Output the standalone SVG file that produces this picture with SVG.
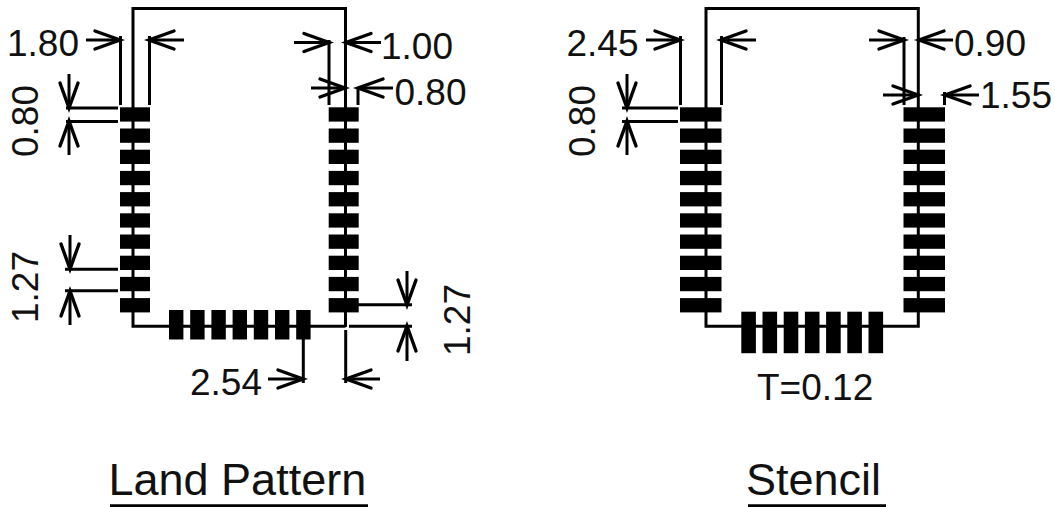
<svg xmlns="http://www.w3.org/2000/svg" width="1055" height="507" viewBox="0 0 1055 507">
<style>
.l{fill:none;stroke:#000;stroke-width:3}
.a{fill:none;stroke:#000;stroke-width:3;marker-end:url(#h)}
.p{fill:#000}
text{font-family:"Liberation Sans",Arial,sans-serif;font-size:37px;fill:#111}
.t{font-size:45px}
</style>
<defs>
<marker id="h" markerUnits="userSpaceOnUse" markerWidth="32" markerHeight="28" refX="28" refY="14" orient="auto" overflow="visible">
<path d="M3 5L28 14L3 23" fill="none" stroke="#000" stroke-width="3.4" stroke-linecap="round"/>
</marker>
<rect id="s1" width="30" height="14.3" class="p"/>
<rect id="s2" width="14.4" height="29.5" class="p"/>
<rect id="s3" width="41.5" height="14.3" class="p"/>
<rect id="s4" width="14.6" height="41.5" class="p"/>
</defs>
<g id="land-pattern">
<path class="l" d="M133 320V8.5H345.5V327M133 320V326.3H345.5"/>
<g id="land-left-pads"><use href="#s1" x="120" y="107.3"/><use href="#s1" x="120" y="128.5"/><use href="#s1" x="120" y="149.7"/><use href="#s1" x="120" y="170.9"/><use href="#s1" x="120" y="192.1"/><use href="#s1" x="120" y="213.3"/><use href="#s1" x="120" y="234.5"/><use href="#s1" x="120" y="255.7"/><use href="#s1" x="120" y="276.9"/><use href="#s1" x="120" y="298.1"/></g>
<g id="land-right-pads"><use href="#s1" x="328.7" y="107.3"/><use href="#s1" x="328.7" y="128.5"/><use href="#s1" x="328.7" y="149.7"/><use href="#s1" x="328.7" y="170.9"/><use href="#s1" x="328.7" y="192.1"/><use href="#s1" x="328.7" y="213.3"/><use href="#s1" x="328.7" y="234.5"/><use href="#s1" x="328.7" y="255.7"/><use href="#s1" x="328.7" y="276.9"/><use href="#s1" x="328.7" y="298.1"/></g>
<g id="land-bottom-pads"><use href="#s2" x="169" y="310"/><use href="#s2" x="190.2" y="310"/><use href="#s2" x="211.4" y="310"/><use href="#s2" x="232.6" y="310"/><use href="#s2" x="253.8" y="310"/><use href="#s2" x="275" y="310"/><use href="#s2" x="296.2" y="310"/></g>
</g>
<g id="stencil">
<path class="l" d="M706 320V8.5H918.3V326.3H706V320"/>
<g id="stencil-left-pads"><use href="#s3" x="680" y="107.3"/><use href="#s3" x="680" y="128.5"/><use href="#s3" x="680" y="149.7"/><use href="#s3" x="680" y="170.9"/><use href="#s3" x="680" y="192.1"/><use href="#s3" x="680" y="213.3"/><use href="#s3" x="680" y="234.5"/><use href="#s3" x="680" y="255.7"/><use href="#s3" x="680" y="276.9"/><use href="#s3" x="680" y="298.1"/></g>
<g id="stencil-right-pads"><use href="#s3" x="903.5" y="107.3"/><use href="#s3" x="903.5" y="128.5"/><use href="#s3" x="903.5" y="149.7"/><use href="#s3" x="903.5" y="170.9"/><use href="#s3" x="903.5" y="192.1"/><use href="#s3" x="903.5" y="213.3"/><use href="#s3" x="903.5" y="234.5"/><use href="#s3" x="903.5" y="255.7"/><use href="#s3" x="903.5" y="276.9"/><use href="#s3" x="903.5" y="298.1"/></g>
<g id="stencil-bottom-pads"><use href="#s4" x="741.3" y="311.7"/><use href="#s4" x="762.5" y="311.7"/><use href="#s4" x="783.7" y="311.7"/><use href="#s4" x="804.9" y="311.7"/><use href="#s4" x="826.1" y="311.7"/><use href="#s4" x="847.3" y="311.7"/><use href="#s4" x="868.5" y="311.7"/></g>
</g>
<g id="connectors">
<path class="l" d="M120.5 36V105M149.5 36V105M66 108H118M66 121.5H118M65 269.3H118M65 290.7H118M329 40V105M358 88V105M358 304.7H412M349 326.3H412M303.3 339V383M345.7 330V383"/>
<path class="a" d="M86 40H120"/><path class="a" d="M184 40H149"/>
<path class="a" d="M69 74V108"/><path class="a" d="M69 155V121"/>
<path class="a" d="M70 235V269"/><path class="a" d="M70 325V291"/>
<path class="a" d="M294 42.5H329"/><path class="a" d="M381 42.5H346"/>
<path class="a" d="M311 88H345"/><path class="a" d="M393 88H358"/>
<path class="a" d="M407 271V305"/><path class="a" d="M407 361V326"/>
<path class="a" d="M268 379H303"/><path class="a" d="M380 379H346"/>
<path class="l" d="M680.5 36V105M721.5 36V105M622 108H678M622 121.5H678M904 37V105M944.5 92V105"/>
<path class="a" d="M646 40H680"/><path class="a" d="M756 40H721"/>
<path class="a" d="M627 74V108"/><path class="a" d="M627 155V121"/>
<path class="a" d="M869 40H904"/><path class="a" d="M953 40H919"/>
<path class="a" d="M883 95H918"/><path class="a" d="M979 95H945"/>
</g>
<g id="labels">
<text x="7" y="56">1.80</text>
<text transform="translate(38 157) rotate(-90)">0.80</text>
<text transform="translate(38 323) rotate(-90)">1.27</text>
<text x="381" y="59">1.00</text>
<text x="394.5" y="105">0.80</text>
<text x="190" y="395">2.54</text>
<text transform="translate(470 356) rotate(-90)">1.27</text>
<text x="566.5" y="56">2.45</text>
<text transform="translate(595 157) rotate(-90)">0.80</text>
<text x="954" y="56">0.90</text>
<text x="980" y="108">1.55</text>
<text x="757" y="400">T=0.12</text>
<text class="t" x="108.5" y="495">Land Pattern</text>
<text class="t" x="746" y="495">Stencil</text>
<path class="l" d="M110 505.7H368M748 505.7H886"/>
</g>
</svg>
